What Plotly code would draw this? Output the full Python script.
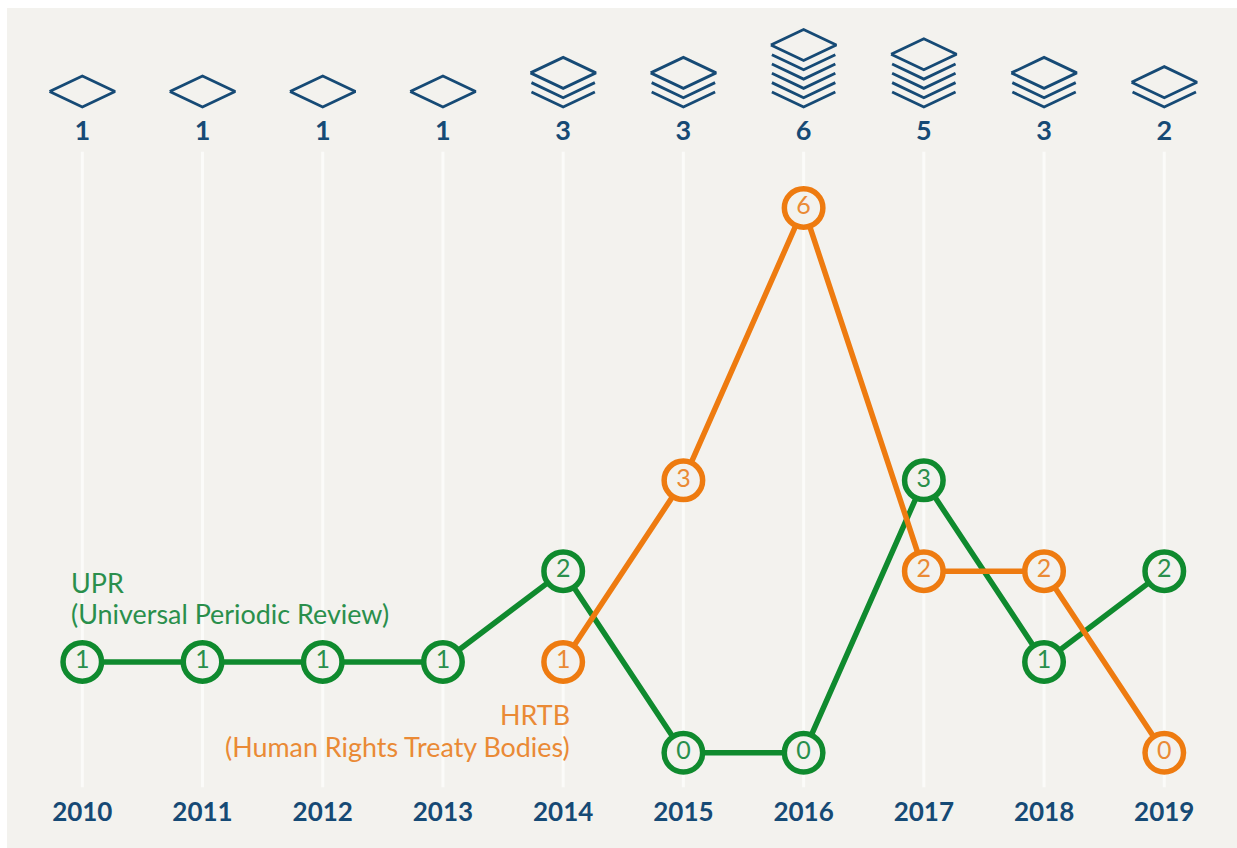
import plotly.graph_objects as go

years = [2010, 2011, 2012, 2013, 2014, 2015, 2016, 2017, 2018, 2019]
totals = [1, 1, 1, 1, 3, 3, 6, 5, 3, 2]
upr = [1, 1, 1, 1, 2, 0, 0, 3, 1, 2]
hrtb_years = [2014, 2015, 2016, 2017, 2018, 2019]
hrtb = [1, 3, 6, 2, 2, 0]
upr_label = ["UPR", "(Universal Periodic Review)"]
hrtb_label = ["HRTB", "(Human Rights Treaty Bodies)"]

PANEL = "#f3f2ee"
GREEN = "#0f8a2e"
ORANGE = "#ee7b10"
GREEN_TEXT = "#2a8f4c"
ORANGE_TEXT = "#ea8a35"
NAVY = "#164a75"
GRID = "#fbfbf9"
FONT = "Lato"

# icon geometry in axis units
ICON_BASE = 7.112
STEP = 0.1024
HALF_H = 0.1707
HALF_W = 0.272
COUNT_Y = 6.818
GRID_TOP = 6.62
GRID_BOTTOM = -0.38

fig = go.Figure()

gx, gy = [], []
for yr in years:
    gx += [yr, yr, None]
    gy += [GRID_BOTTOM, GRID_TOP, None]
fig.add_trace(go.Scatter(x=gx, y=gy, mode="lines", line=dict(color=GRID, width=3), hoverinfo="skip"))

ix, iy = [], []
for yr, n in zip(years, totals):
    for k in range(n - 1):
        v = ICON_BASE + k * STEP
        ix += [yr - HALF_W * 0.97, yr, yr + HALF_W * 0.97, None]
        iy += [v + HALF_H * 0.97, v, v + HALF_H * 0.97, None]
    v = ICON_BASE + (n - 1) * STEP
    ix += [yr - HALF_W, yr, yr + HALF_W, yr, yr - HALF_W, None]
    iy += [v + HALF_H, v, v + HALF_H, v + 2 * HALF_H, v + HALF_H, None]
fig.add_trace(go.Scatter(x=ix, y=iy, mode="lines",
                         line=dict(color=NAVY, width=2.8, shape="linear"), hoverinfo="skip"))

fig.add_trace(go.Scatter(x=years, y=[COUNT_Y] * len(years), mode="text", text=[str(t) for t in totals],
                         textposition="middle center",
                         textfont=dict(family=FONT, size=27, color=NAVY, weight="bold"), hoverinfo="skip"))


def series(x, y, color, text_color):
    return go.Scatter(x=x, y=y, mode="lines+markers+text", text=[str(v) for v in y],
                      textposition="middle center",
                      textfont=dict(family=FONT, size=25, color=text_color),
                      line=dict(color=color, width=5.5),
                      marker=dict(size=38.5, color=PANEL, line=dict(color=color, width=5.5)),
                      cliponaxis=False)


fig.add_trace(series(years, upr, GREEN, GREEN_TEXT))
fig.add_trace(series(hrtb_years, hrtb, ORANGE, ORANGE_TEXT))

annotations = []
for text, yv in zip(upr_label, [1.88, 1.535]):
    annotations.append(dict(x=2009.89, y=yv, text=text, xanchor="left", yanchor="middle", showarrow=False,
                            font=dict(family=FONT, size=26.9, color=GREEN_TEXT)))
for text, yv in zip(hrtb_label, [0.425, 0.07]):
    annotations.append(dict(x=2014.07, y=yv, text=text, xanchor="right", yanchor="middle", showarrow=False,
                            font=dict(family=FONT, size=26.9, color=ORANGE_TEXT)))

fig.update_layout(
    width=1230, height=840, margin=dict(l=0, r=0, t=0, b=59, pad=0),
    paper_bgcolor=PANEL, plot_bgcolor=PANEL, showlegend=False, annotations=annotations,
    xaxis=dict(range=[2009.3737, 2019.605], tickmode="array", tickvals=years, ticktext=[str(y) for y in years],
               showgrid=False, zeroline=False, showline=False, ticks="", ticklen=0, ticklabelstandoff=5,
               tickfont=dict(family=FONT, size=26, color=NAVY, weight="bold")),
    yaxis=dict(range=[-0.3995, 8.202], visible=False, showgrid=False, zeroline=False),
)

fig.write_html("out.html", post_script="document.body.style.margin='8px 0 0 7px';document.body.style.overflow='hidden';")
